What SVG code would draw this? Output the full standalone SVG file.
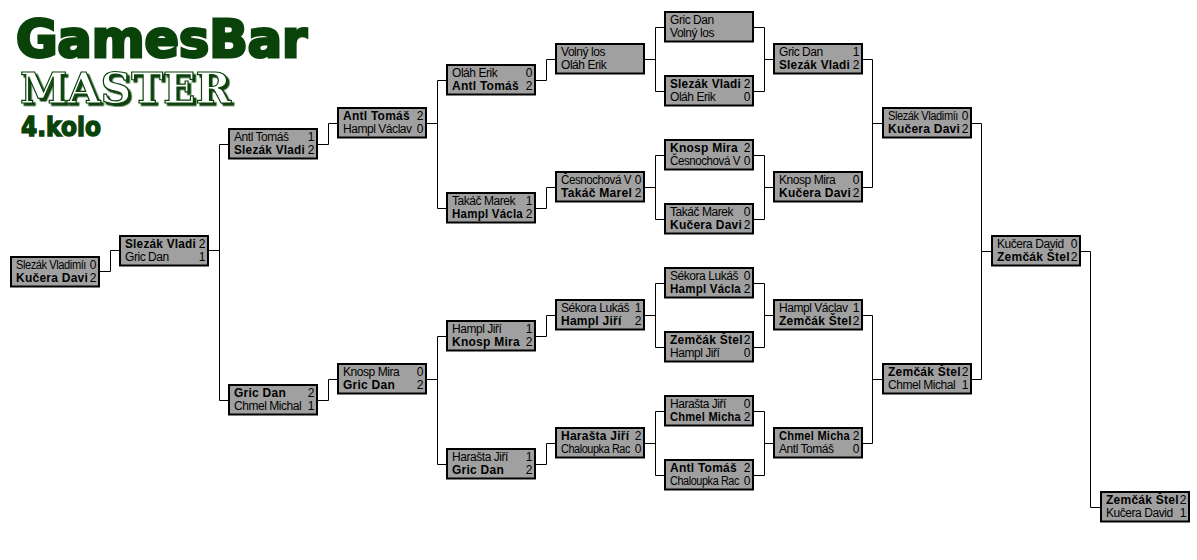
<svg xmlns="http://www.w3.org/2000/svg" width="1197" height="560" viewBox="0 0 1197 560">
<defs>
<filter id="sh" x="-5%" y="-10%" width="115%" height="125%"><feDropShadow dx="2.500" dy="2.500" stdDeviation="0" flood-color="#0a430a"/></filter>
<g id="b"><rect x="1" y="1" width="88" height="29.500" class="box"/></g>
</defs>
<style>
.box{fill:#a0a0a0;stroke:#000;stroke-width:2}
text{font-family:"Liberation Sans",Arial,sans-serif;font-size:12px;letter-spacing:-.45px;fill:#000}
.w{font-weight:700;letter-spacing:.25px}
.s{text-anchor:end;letter-spacing:0}
.c{fill:none;stroke:#000;stroke-width:1}
</style>
<rect width="1197" height="560" fill="#fff"/>
<g id="logo">
<text x="16" y="57" textLength="291" lengthAdjust="spacingAndGlyphs" style="font-family:'DejaVu Sans',sans-serif;font-weight:700;font-size:51px;letter-spacing:0;fill:#0a430a;stroke:#0a430a;stroke-width:3">GamesBar</text>
<text x="20" y="103" textLength="211" lengthAdjust="spacingAndGlyphs" filter="url(#sh)" style="font-family:'DejaVu Serif',serif;font-weight:700;font-size:43px;letter-spacing:0;fill:#fff;stroke:#0a430a;stroke-width:1.200">MASTER</text>
<text x="21" y="136" textLength="80" lengthAdjust="spacingAndGlyphs" style="font-family:'DejaVu Sans',sans-serif;font-weight:700;font-size:27px;letter-spacing:0;fill:#0a430a;stroke:#0a430a;stroke-width:1.500">4.kolo</text>
</g>
<g id="connectors" class="c">
<path class="c" d="M100 271.500H110.500V250.500H119"/>
<path class="c" d="M209 250.500H219.500M219.500 144.500V400.500M219.500 144.500H228M219.500 400.500H228"/>
<path class="c" d="M318 144.500H328.500V123.500H337M318 400.500H328.500V379.500H337"/>
<path class="c" d="M427 123.500H437.500M437.500 80.500V208.500M437.500 80.500H446M437.500 208.500H446"/>
<path class="c" d="M427 379.500H437.500M437.500 336.500V464.500M437.500 336.500H446M437.500 464.500H446"/>
<path class="c" d="M536 80.500H546.500V59.500H555M536 208.500H546.500V187.500H555M536 336.500H546.500V315.500H555M536 464.500H546.500V443.500H555"/>
<path class="c" d="M645 59.500H655.500M655.500 27.500V91.500M655.500 27.500H664M655.500 91.500H664"/>
<path class="c" d="M645 187.500H655.500M655.500 155.500V219.500M655.500 155.500H664M655.500 219.500H664"/>
<path class="c" d="M645 315.500H655.500M655.500 283.500V347.500M655.500 283.500H664M655.500 347.500H664"/>
<path class="c" d="M645 443.500H655.500M655.500 411.500V475.500M655.500 411.500H664M655.500 475.500H664"/>
<path class="c" d="M754 27.500H764.500V91.500H754M764.500 59.500H773"/>
<path class="c" d="M754 155.500H764.500V219.500H754M764.500 187.500H773"/>
<path class="c" d="M754 283.500H764.500V347.500H754M764.500 315.500H773"/>
<path class="c" d="M754 411.500H764.500V475.500H754M764.500 443.500H773"/>
<path class="c" d="M863 59.500H872.500V187.500H863M872.500 123.500H882"/>
<path class="c" d="M863 315.500H872.500V443.500H863M872.500 379.500H882"/>
<path class="c" d="M972 123.500H981.500V379.500H972M981.500 251.500H991"/>
<path class="c" d="M1081 251.500H1090.500V507.500H1100"/>
</g>
<g id="n01" transform="translate(10,256)"><use href="#b"/><text x="6" y="13" textLength="70" lengthAdjust="spacingAndGlyphs">Slezák Vladimíı</text><text class="s" x="86.500" y="13">0</text><text class="w" x="6" y="26">Kučera Davi</text><text class="s" x="86.500" y="26">2</text></g>
<g id="n02" transform="translate(119,235)"><use href="#b"/><text class="w" x="6" y="13" textLength="71" lengthAdjust="spacingAndGlyphs">Slezák Vladi</text><text class="s" x="86.500" y="13">2</text><text x="6" y="26">Gric Dan</text><text class="s" x="86.500" y="26">1</text></g>
<g id="n03" transform="translate(228,128)"><use href="#b"/><text x="6" y="13">Antl Tomáš</text><text class="s" x="86.500" y="13">1</text><text class="w" x="6" y="26" textLength="71" lengthAdjust="spacingAndGlyphs">Slezák Vladi</text><text class="s" x="86.500" y="26">2</text></g>
<g id="n04" transform="translate(228,384)"><use href="#b"/><text class="w" x="6" y="13">Gric Dan</text><text class="s" x="86.500" y="13">2</text><text x="6" y="26">Chmel Michal</text><text class="s" x="86.500" y="26">1</text></g>
<g id="n05" transform="translate(337,107)"><use href="#b"/><text class="w" x="6" y="13">Antl Tomáš</text><text class="s" x="86.500" y="13">2</text><text x="6" y="26">Hampl Václav</text><text class="s" x="86.500" y="26">0</text></g>
<g id="n06" transform="translate(337,363)"><use href="#b"/><text x="6" y="13">Knosp Mira</text><text class="s" x="86.500" y="13">0</text><text class="w" x="6" y="26">Gric Dan</text><text class="s" x="86.500" y="26">2</text></g>
<g id="n07" transform="translate(446,64)"><use href="#b"/><text x="6" y="13">Oláh Erik</text><text class="s" x="86.500" y="13">0</text><text class="w" x="6" y="26">Antl Tomáš</text><text class="s" x="86.500" y="26">2</text></g>
<g id="n08" transform="translate(446,192)"><use href="#b"/><text x="6" y="13">Takáč Marek</text><text class="s" x="86.500" y="13">1</text><text class="w" x="6" y="26" textLength="71" lengthAdjust="spacingAndGlyphs">Hampl Václa</text><text class="s" x="86.500" y="26">2</text></g>
<g id="n09" transform="translate(446,320)"><use href="#b"/><text x="6" y="13">Hampl Jiří</text><text class="s" x="86.500" y="13">1</text><text class="w" x="6" y="26">Knosp Mira</text><text class="s" x="86.500" y="26">2</text></g>
<g id="n10" transform="translate(446,448)"><use href="#b"/><text x="6" y="13">Harašta Jiří</text><text class="s" x="86.500" y="13">1</text><text class="w" x="6" y="26">Gric Dan</text><text class="s" x="86.500" y="26">2</text></g>
<g id="n11" transform="translate(555,43)"><use href="#b"/><text x="6" y="13">Volný los</text><text x="6" y="26">Oláh Erik</text></g>
<g id="n12" transform="translate(555,171)"><use href="#b"/><text x="6" y="13" textLength="70" lengthAdjust="spacingAndGlyphs">Česnochová V</text><text class="s" x="86.500" y="13">0</text><text class="w" x="6" y="26" textLength="71" lengthAdjust="spacingAndGlyphs">Takáč Marel</text><text class="s" x="86.500" y="26">2</text></g>
<g id="n13" transform="translate(555,299)"><use href="#b"/><text x="6" y="13">Sékora Lukáš</text><text class="s" x="86.500" y="13">1</text><text class="w" x="6" y="26">Hampl Jiří</text><text class="s" x="86.500" y="26">2</text></g>
<g id="n14" transform="translate(555,427)"><use href="#b"/><text class="w" x="6" y="13">Harašta Jiří</text><text class="s" x="86.500" y="13">2</text><text x="6" y="26" textLength="69" lengthAdjust="spacingAndGlyphs">Chaloupka Rac</text><text class="s" x="86.500" y="26">0</text></g>
<g id="n15" transform="translate(664,11)"><use href="#b"/><text x="6" y="13">Gric Dan</text><text x="6" y="26">Volný los</text></g>
<g id="n16" transform="translate(664,75)"><use href="#b"/><text class="w" x="6" y="13" textLength="71" lengthAdjust="spacingAndGlyphs">Slezák Vladi</text><text class="s" x="86.500" y="13">2</text><text x="6" y="26">Oláh Erik</text><text class="s" x="86.500" y="26">0</text></g>
<g id="n17" transform="translate(664,139)"><use href="#b"/><text class="w" x="6" y="13">Knosp Mira</text><text class="s" x="86.500" y="13">2</text><text x="6" y="26" textLength="70" lengthAdjust="spacingAndGlyphs">Česnochová V</text><text class="s" x="86.500" y="26">0</text></g>
<g id="n18" transform="translate(664,203)"><use href="#b"/><text x="6" y="13">Takáč Marek</text><text class="s" x="86.500" y="13">0</text><text class="w" x="6" y="26">Kučera Davi</text><text class="s" x="86.500" y="26">2</text></g>
<g id="n19" transform="translate(664,267)"><use href="#b"/><text x="6" y="13">Sékora Lukáš</text><text class="s" x="86.500" y="13">0</text><text class="w" x="6" y="26" textLength="71" lengthAdjust="spacingAndGlyphs">Hampl Václa</text><text class="s" x="86.500" y="26">2</text></g>
<g id="n20" transform="translate(664,331)"><use href="#b"/><text class="w" x="6" y="13">Zemčák Štel</text><text class="s" x="86.500" y="13">2</text><text x="6" y="26">Hampl Jiří</text><text class="s" x="86.500" y="26">0</text></g>
<g id="n21" transform="translate(664,395)"><use href="#b"/><text x="6" y="13">Harašta Jiří</text><text class="s" x="86.500" y="13">0</text><text class="w" x="6" y="26" textLength="71" lengthAdjust="spacingAndGlyphs">Chmel Micha</text><text class="s" x="86.500" y="26">2</text></g>
<g id="n22" transform="translate(664,459)"><use href="#b"/><text class="w" x="6" y="13">Antl Tomáš</text><text class="s" x="86.500" y="13">2</text><text x="6" y="26" textLength="69" lengthAdjust="spacingAndGlyphs">Chaloupka Rac</text><text class="s" x="86.500" y="26">0</text></g>
<g id="n23" transform="translate(773,43)"><use href="#b"/><text x="6" y="13">Gric Dan</text><text class="s" x="86.500" y="13">1</text><text class="w" x="6" y="26" textLength="71" lengthAdjust="spacingAndGlyphs">Slezák Vladi</text><text class="s" x="86.500" y="26">2</text></g>
<g id="n24" transform="translate(773,171)"><use href="#b"/><text x="6" y="13">Knosp Mira</text><text class="s" x="86.500" y="13">0</text><text class="w" x="6" y="26">Kučera Davi</text><text class="s" x="86.500" y="26">2</text></g>
<g id="n25" transform="translate(773,299)"><use href="#b"/><text x="6" y="13">Hampl Václav</text><text class="s" x="86.500" y="13">1</text><text class="w" x="6" y="26">Zemčák Štel</text><text class="s" x="86.500" y="26">2</text></g>
<g id="n26" transform="translate(773,427)"><use href="#b"/><text class="w" x="6" y="13" textLength="71" lengthAdjust="spacingAndGlyphs">Chmel Micha</text><text class="s" x="86.500" y="13">2</text><text x="6" y="26">Antl Tomáš</text><text class="s" x="86.500" y="26">0</text></g>
<g id="n27" transform="translate(882,107)"><use href="#b"/><text x="6" y="13" textLength="70" lengthAdjust="spacingAndGlyphs">Slezák Vladimíı</text><text class="s" x="86.500" y="13">0</text><text class="w" x="6" y="26">Kučera Davi</text><text class="s" x="86.500" y="26">2</text></g>
<g id="n28" transform="translate(882,363)"><use href="#b"/><text class="w" x="6" y="13">Zemčák Štel</text><text class="s" x="86.500" y="13">2</text><text x="6" y="26">Chmel Michal</text><text class="s" x="86.500" y="26">1</text></g>
<g id="n29" transform="translate(991,235)"><use href="#b"/><text x="6" y="13">Kučera David</text><text class="s" x="86.500" y="13">0</text><text class="w" x="6" y="26">Zemčák Štel</text><text class="s" x="86.500" y="26">2</text></g>
<g id="n30" transform="translate(1100,491)"><use href="#b"/><text class="w" x="6" y="13">Zemčák Štel</text><text class="s" x="86.500" y="13">2</text><text x="6" y="26">Kučera David</text><text class="s" x="86.500" y="26">1</text></g>
</svg>
